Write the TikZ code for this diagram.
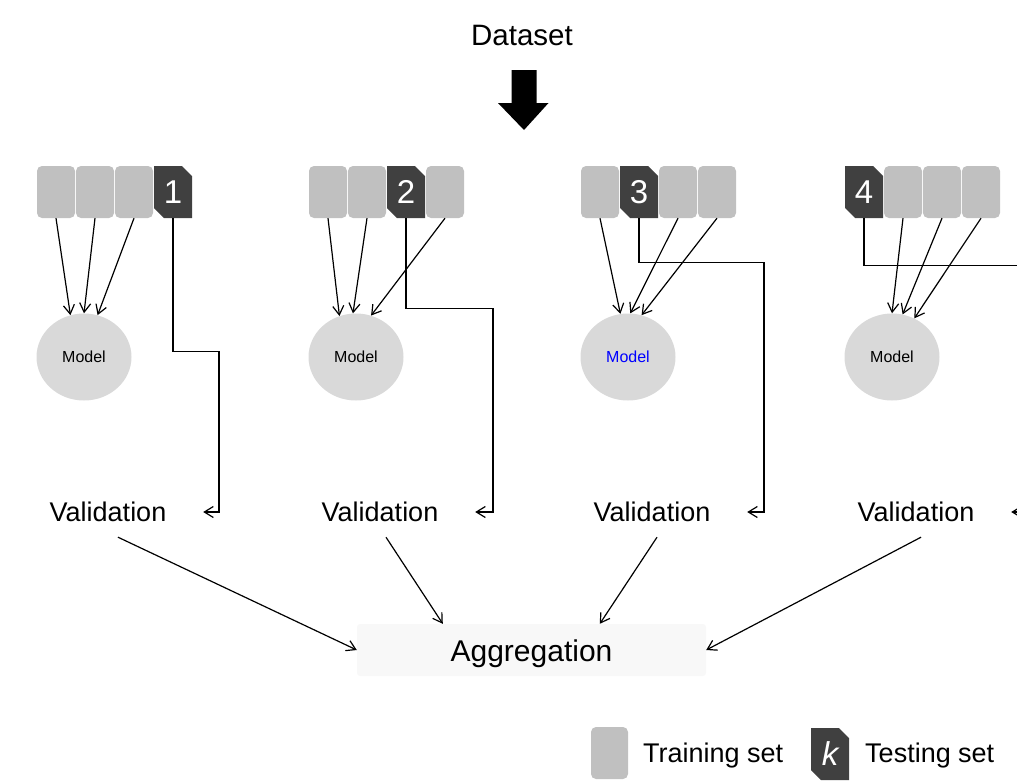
\documentclass[tikz,border=0pt]{standalone}
\usepackage{fontspec}
\setmainfont{Liberation Sans}
\usetikzlibrary{arrows.meta, positioning, calc, shapes.misc, shapes.geometric}

\definecolor{trainfill}{HTML}{C0C0C0}
\definecolor{testfill}{HTML}{404040}
\definecolor{modelfill}{HTML}{D9D9D9}
\definecolor{aggfill}{HTML}{F8F8F8}

\tikzset{
  trainbox/.style={fill=trainfill, rounded corners=5pt, minimum width=38pt, minimum height=52pt, inner sep=0pt},
  testbox/.style={chamfered rectangle, chamfered rectangle corners={north east, south west},
    chamfered rectangle xsep=5pt, chamfered rectangle ysep=5pt, fill=testfill, text=white,
    minimum width=38pt, minimum height=52pt, inner sep=0pt, font=\fontsize{33}{36}\selectfont},
  modelnode/.style={ellipse, fill=modelfill, minimum width=95pt, minimum height=87pt, inner sep=0pt,
    font=\fontsize{16}{18}\selectfont},
  bigtext/.style={font=\fontsize{27}{32}\selectfont, inner sep=0pt},
  valnode/.style={bigtext, minimum width=142pt, minimum height=50pt},
  arr/.style={-{Straight Barb[length=9pt,width=11pt]}, line width=1.2pt}
}

\begin{document}
\begin{tikzpicture}[x=1pt, y=-1pt]
\useasboundingbox (0,0) rectangle (1017,780);
\clip (0,0) rectangle (1017,780);

% Dataset
\node[bigtext, font=\fontsize{29.5}{34}\selectfont, text height=21pt, text depth=0pt] (data) at (522,35) {Dataset};
\coordinate (split) at (524,70);
\fill (split) ++(-12.5,0) -- ++(25,0) -- ++(0,33) -- ++(12,0) -- ++(-24.5,27) -- ++(-26,-27) -- ++(13.5,0) -- cycle;

% Folds: number / left x / position of the testing part / colour of the model text
\foreach \k/\sx/\t/\mc in {1/37/4/black, 2/309/3/black, 3/581/2/blue, 4/845/1/black} {
    \foreach \i in {1,...,4} {
        \pgfmathsetmacro\bx{\sx + 19 + (\i-1)*39}
        \ifnum\i=\t
            \node[testbox] (f\k-\i) at (\bx,192) {\k};
        \else
            \node[trainbox] (f\k-\i) at (\bx,192) {};
        \fi
    }
    \pgfmathsetmacro\mx{\sx + 47}
    \node[modelnode, text=\mc] (model\k) at (\mx,357) {Model};
    \pgfmathsetmacro\vx{\sx + 71}
    \node[valnode] (val\k) at (\vx,512) {Validation};
}

% training parts into the models
\draw[arr] (f1-1.south) -- (model1.108);
\draw[arr] (f1-2.south) -- (model1.90);
\draw[arr] (f1-3.south) -- (model1.72);
\draw[arr] (f2-1.south) -- (model2.112);
\draw[arr] (f2-2.south) -- (model2.94);
\draw[arr] (f2-4.south) -- (model2.70);
\draw[arr] (f3-1.south) -- (model3.100);
\draw[arr] (f3-3.south) -- (model3.87);
\draw[arr] (f3-4.south) -- (model3.72);
\draw[arr] (f4-2.south) -- (model4.90);
\draw[arr] (f4-3.south) -- (model4.76);
\draw[arr] (f4-4.south) -- (model4.60);

% testing parts into validation
\draw[arr] (f1-4.south) |- ++(46,133) |- ([xshift=24pt]val1.east);
\draw[arr] (f2-3.south) |- ++(87,90) |- ([xshift=24pt]val2.east);
\draw[arr] (f3-2.south) |- ++(125,44) |- ([xshift=24pt]val3.east);
\draw[arr] (f4-1.south) |- ++(164,47) |- ([xshift=24pt]val4.east);

% Aggregation
\node[bigtext, font=\fontsize{30}{34}\selectfont, text height=22pt, text depth=0pt, fill=aggfill,
    rounded corners=3pt, minimum width=349pt, minimum height=52pt] (agg) at (531.5,650) {Aggregation};
\draw[arr] ([xshift=10pt]val1.south) -- (agg.west);
\draw[arr] ([xshift=6pt]val2.south) -- ([xshift=86pt]agg.north west);
\draw[arr] ([xshift=5pt]val3.south) -- ([xshift=243pt]agg.north west);
\draw[arr] ([xshift=5pt]val4.south) -- (agg.east);

% Legend
\node[trainbox, minimum width=37pt] (legtrain) at (609.5,753) {};
\node[bigtext, anchor=west] (legtraintext) at (643,756) {Training set};
\node[testbox] (legtest) at (830,754) {\itshape k};
\node[bigtext, anchor=west] (legtesttext) at (865,756) {Testing set};
\end{tikzpicture}
\end{document}
